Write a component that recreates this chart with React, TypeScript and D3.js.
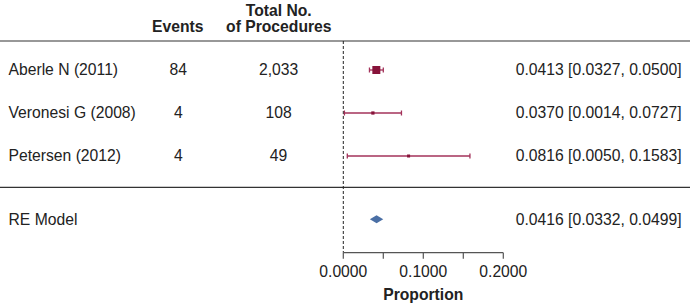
import React from "react";
import * as d3 from "d3";

const studies = ["Aberle N (2011)", "Veronesi G (2008)", "Petersen (2012)"];
const events = ["84", "4", "4"];
const procedures = ["2,033", "108", "49"];
const estimates = [0.0413, 0.037, 0.0816];
const lower = [0.0327, 0.0014, 0.005];
const upper = [0.05, 0.0727, 0.1583];
const weights = [52600, 3000, 650];
const reEstimate = 0.0416;
const reLower = 0.0332;
const reUpper = 0.0499;
const xTicks = [0, 0.05, 0.1, 0.15, 0.2];
const xTickLabels = [0, 0.1, 0.2];

const W = 690;
const H = 304;
const FONT = "'Liberation Sans', Arial, Helvetica, sans-serif";
const POINT = "#87133a";
const CI = "#a3325a";
const DIAMOND = "#4a6fa5";

export default function App() {
  const x = d3.scaleLinear().domain([0, 0.2]).range([343.3, 503.3]);
  const y = d3.scaleLinear().domain([0, 1]).range([70, 113]);
  const size = d3.scaleLinear().domain([d3.min(weights)!, d3.max(weights)!]).range([3, 8]);
  const fmt = d3.format(".4f");
  const reY = y(3.47);
  const axisY = 252.7;
  const fs = 15.7;

  const diamond = [
    [x(reLower), reY],
    [x(reEstimate), reY - 4],
    [x(reUpper), reY],
    [x(reEstimate), reY + 4],
  ];

  return (
    <svg width={W} height={H} style={{ position: "absolute", left: 0, top: 0 }} fontFamily={FONT}>
      <rect width={W} height={H} fill="#fff" />
      <g fontWeight="bold" fontSize={fs} fill="#222" textAnchor="middle">
        <text x={278.7} y={15.8}>Total No.</text>
        <text x={177.8} y={32.4}>Events</text>
        <text x={278.8} y={32.4}>of Procedures</text>
      </g>
      <line x1={0} x2={W} y1={41} y2={41} stroke="#333" strokeWidth={1.2} />
      <line x1={0} x2={W} y1={187.3} y2={187.3} stroke="#333" strokeWidth={1.2} />
      <line x1={x(0)} x2={x(0)} y1={41} y2={axisY} stroke="#222" strokeWidth={1} strokeDasharray="3,2" />

      {studies.map((s, i) => {
        const cy = y(i);
        const sz = size(weights[i]);
        return (
          <g key={s}>
            <text x={8.5} y={cy + 5.3} fontSize={fs} fill="#222">{s}</text>
            <text x={178.3} y={cy + 5.3} fontSize={fs} fill="#222" textAnchor="middle">{events[i]}</text>
            <text x={278.6} y={cy + 5.3} fontSize={fs} fill="#222" textAnchor="middle">{procedures[i]}</text>
            <text x={681.5} y={cy + 5.3} fontSize={fs} fill="#222" textAnchor="end">
              {`${fmt(estimates[i])} [${fmt(lower[i])}, ${fmt(upper[i])}]`}
            </text>
            <line x1={x(lower[i])} x2={x(upper[i])} y1={cy} y2={cy} stroke={CI} strokeWidth={1.3} />
            <line x1={x(lower[i])} x2={x(lower[i])} y1={cy - 2.5} y2={cy + 2.5} stroke={CI} strokeWidth={1.3} />
            <line x1={x(upper[i])} x2={x(upper[i])} y1={cy - 2.5} y2={cy + 2.5} stroke={CI} strokeWidth={1.3} />
            <rect x={x(estimates[i]) - sz / 2} y={cy - sz / 2} width={sz} height={sz} fill={POINT} />
          </g>
        );
      })}

      <text x={8.5} y={reY + 5.3} fontSize={fs} fill="#222">RE Model</text>
      <polygon points={diamond.map((p) => p.join(",")).join(" ")} fill={DIAMOND} />
      <text x={681.5} y={reY + 5.3} fontSize={fs} fill="#222" textAnchor="end">
        {`${fmt(reEstimate)} [${fmt(reLower)}, ${fmt(reUpper)}]`}
      </text>

      <line x1={x(0)} x2={x(0.2)} y1={axisY} y2={axisY} stroke="#555" strokeWidth={1.2} />
      {xTicks.map((t) => (
        <line key={t} x1={x(t)} x2={x(t)} y1={axisY} y2={axisY + 6} stroke="#555" strokeWidth={1.2} />
      ))}
      {xTickLabels.map((t) => (
        <text key={t} x={x(t)} y={277} fontSize={fs} fill="#222" textAnchor="middle">{fmt(t)}</text>
      ))}
      <text x={x(0.1)} y={300} fontSize={fs} fontWeight="bold" fill="#222" textAnchor="middle">Proportion</text>
    </svg>
  );
}
